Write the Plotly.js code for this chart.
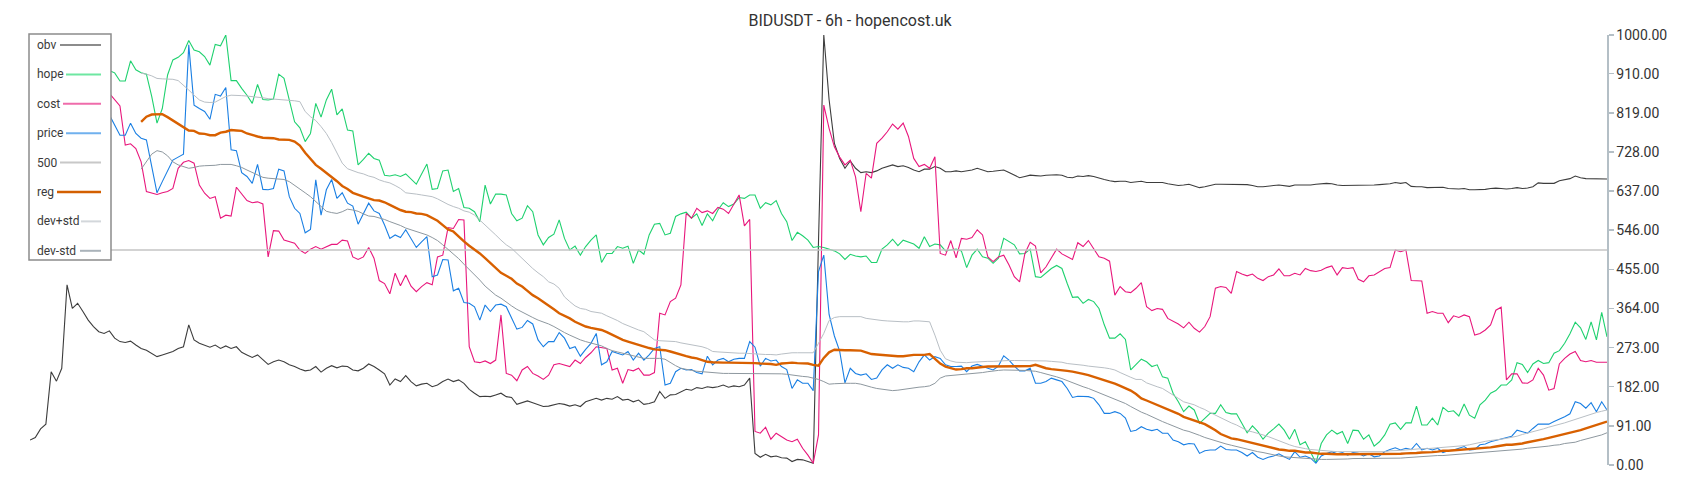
<!DOCTYPE html>
<html>
<head>
<meta charset="utf-8">
<script src="https://cdn.plot.ly/plotly-3.0.1.min.js"></script>
<style>
  html, body { margin: 0; padding: 0; background: #ffffff; }
  #chart { width: 1700px; height: 500px; }
</style>
</head>
<body>
<div id="chart"></div>
<script>
// ---------------- DATA ----------------
const TITLE = 'BIDUSDT - 6h - hopencost.uk';
const yTickVals = [0, 91, 182, 273, 364, 455, 546, 637, 728, 819, 910, 1000];
const LEVEL_500 = 500;
const N_BARS = 299;          // candles index 0 .. 298
const BAND_START = 21;       // reg / dev bands begin at this index

const obv = [
  58,64,84,95,217,195,225,419,364,376,357,337,322,310,306,312,295,287,285,288,
  279,271,267,260,252,256,260,264,271,275,326,291,283,279,274,279,271,277,271,275,
  262,256,250,256,244,234,240,244,240,233,229,223,
  219,221,229,216,225,231,226,230,229,221,219,225,235,229,221,212,186,200,194,208,
  194,184,188,190,182,186,194,200,194,198,190,176,167,159,160,159,163,167,159,157,
  141,145,149,145,141,136,137,140,143,141,137,140,
  136,147,151,155,151,155,153,159,151,153,147,151,141,143,147,171,155,163,164,171,
  176,174,180,178,182,180,182,186,181,184,182,186,202,27,18,25,19,21,17,16,
  8,13,12,8,4,520,1000,850,748,
  713,690,707,690,680,682,680,684,690,694,698,694,696,692,686,682,688,688,694,690,
  682,682,684,682,684,686,690,686,682,683,684,686,680,673,668,671,674,673,672,674,
  675,675,674,669,668,672,671,673,671,667,664,661,659,660,660,657,659,
  660,657,657,657,657,654,652,650,651,653,649,645,647,650,653,653,653,653,653,653,
  652,650,647,647,649,650,651,649,648,651,651,651,651,653,654,655,654,651,650,650,
  651,650,650,650,651,652,653,654,657,655,657,648,647,
  647,645,645,645,646,643,642,642,643,640,640,640,641,643,644,643,642,643,645,643,
  644,647,656,655,655,655,661,663,666,672,668,666,666,666,665,665
];

const hope = [
  925,915,905,920,910,900,915,925,910,900,905,915,920,910,915,
  917,912,893,893,940,919,912,909,857,795,829,907,942,948,959,987,965,961,950,930,
  978,975,1000,894,894,876,860,841,885,850,849,851,909,899,850,798,784,
  752,771,841,809,849,874,814,828,779,777,698,711,725,713,709,674,672,675,671,677,
  665,653,677,700,641,643,684,686,636,643,599,597,589,566,651,607,630,630,628,585,
  568,574,603,589,535,512,529,537,570,527,500,509,488,
  508,523,535,471,492,492,508,504,509,469,500,490,535,560,562,535,539,578,584,588,
  574,584,557,584,568,593,610,601,607,622,620,628,628,597,610,605,615,585,566,522,
  541,533,523,506,508,506,502,498,
  491,478,490,486,484,486,471,471,502,512,525,510,523,518,514,504,531,508,514,512,
  498,500,502,498,459,488,502,484,481,469,481,527,519,512,491,492,502,438,436,447,
  457,464,457,422,390,391,376,385,380,364,326,295,295,
  305,292,221,233,246,240,229,233,205,202,167,147,124,137,128,97,109,120,120,140,
  122,119,119,97,75,91,78,60,74,84,95,81,60,83,47,54,31,5,50,70,
  81,72,78,50,81,80,60,70,44,54,70,95,98,83,98,98,137,
  93,93,109,93,134,124,126,114,142,116,109,140,151,167,173,186,186,198,238,234,
  215,235,243,236,238,260,266,283,305,332,319,292,333,291,355,298
];

const cost = [
  872,868,860,865,870,862,858,866,870,864,858,862,868,866,860,
  864,849,835,744,747,736,705,636,633,629,633,636,643,690,704,708,702,651,632,620,
  624,574,581,579,646,630,615,610,612,607,484,545,544,523,519,516,500,
  492,502,508,502,508,513,513,523,521,484,478,484,506,481,429,422,398,446,417,442,
  416,403,415,424,419,484,488,552,550,571,570,275,240,238,242,236,244,349,213,209,
  196,221,229,213,207,199,209,233,236,233,229,244,236,
  250,261,275,273,271,221,225,190,222,219,225,209,209,215,353,349,380,388,419,585,
  574,597,587,591,585,599,595,585,607,628,556,571,78,74,88,60,74,66,58,54,
  60,39,23,4,70,837,783,740,716,698,709,670,
  589,678,667,748,760,775,793,781,795,764,713,694,699,690,717,492,488,522,482,527,
  525,529,547,535,484,473,484,488,465,438,426,492,518,509,447,461,481,502,491,484,
  478,517,508,522,504,484,481,474,395,415,403,401,411,
  424,368,359,364,362,341,335,328,319,332,318,309,322,345,411,415,413,399,450,444,
  440,444,434,429,438,442,456,440,440,446,442,457,452,450,453,459,463,442,459,457,
  459,432,426,440,442,450,457,459,500,496,500,429,429,
  428,353,357,353,353,331,347,343,349,345,302,306,314,326,360,367,198,212,212,191,
  190,198,225,209,174,178,235,248,258,264,243,240,243,239,239,239
];

const price = [
  840,835,825,830,820,810,815,825,820,812,805,815,820,818,812,
  814,791,767,767,795,771,760,756,694,633,659,686,709,716,723,977,837,829,822,804,
  862,858,878,733,731,680,671,655,699,641,640,643,688,684,624,597,585,
  540,548,663,581,640,664,620,633,609,602,560,585,609,591,585,558,527,535,529,547,
  525,506,519,531,438,442,478,477,405,411,378,376,368,337,372,357,372,374,368,341,
  316,320,336,328,291,275,287,287,308,295,271,275,253,
  269,283,306,233,240,264,260,256,264,244,260,244,256,271,275,186,190,217,225,221,
  222,215,212,253,233,244,248,240,246,248,248,287,274,230,248,242,244,229,222,178,
  198,190,190,173,450,488,350,300,265,191,225,213,
  209,212,199,202,221,233,225,233,227,225,217,240,256,244,252,248,233,229,229,230,
  217,230,234,229,225,221,230,254,244,230,219,219,225,190,190,194,202,198,194,178,
  157,160,159,159,155,140,120,120,124,120,109,78,81,
  89,83,80,83,74,74,58,54,47,50,49,27,33,35,35,44,36,35,35,29,
  21,29,18,13,18,21,26,19,13,31,18,21,16,4,21,27,31,26,29,23,
  29,27,21,26,19,21,31,36,40,35,39,36,50,
  35,39,35,39,29,33,35,39,43,35,36,47,49,54,57,60,64,67,81,78,
  74,85,95,95,95,101,106,112,119,147,143,132,145,124,147,128
];

// reg and its bands start at BAND_START
const reg = [
  798,810,815,816,816,809,801,795,787,778,777,771,770,767,767,773,775,779,778,777,
  771,767,764,761,760,760,757,757,756,752,743,
  726,712,698,689,680,671,660,649,642,633,628,624,620,616,615,611,605,599,593,589,
  588,585,584,581,575,568,558,548,543,531,520,510,502,492,481,469,457,447,440,433,
  422,415,405,395,388,380,371,362,353,347,341,333,327,
  322,319,316,314,309,303,297,291,287,283,279,275,272,269,268,267,264,260,257,253,
  250,248,244,240,239,238,238,238,238,238,238,238,237,236,236,235,233,236,237,238,
  237,236,236,233,231,249,262,268,267,267,267,266,
  266,262,258,257,256,255,253,253,253,255,256,256,256,258,247,236,229,225,222,223,
  225,225,227,228,229,229,229,229,230,230,230,230,230,233,229,225,223,222,221,219,
  217,215,212,209,205,202,198,193,189,184,178,173,165,
  155,150,145,140,134,129,124,119,112,108,103,99,95,88,81,72,67,62,60,57,
  54,51,49,46,43,40,36,35,33,33,31,29,29,27,26,26,25,25,25,25,
  25,25,25,25,25,25,25,26,26,26,27,27,28,
  29,29,30,31,33,33,34,35,36,36,37,38,40,41,43,45,47,47,48,50,
  53,55,57,60,63,66,68,71,75,78,81,85,89,93,97,101
];

const devPlus = [
  911,909,905,899,898,898,897,894,884,872,860,849,844,843,844,850,857,860,860,859,
  858,857,855,854,852,851,850,850,849,847,845,
  822,810,801,787,771,750,725,702,689,684,680,677,672,669,663,659,656,650,643,633,
  632,630,628,626,624,619,612,606,601,597,591,588,581,570,557,547,535,523,512,504,
  492,481,469,457,447,438,426,421,411,391,380,370,364,
  362,357,355,353,347,342,336,329,324,318,314,310,300,291,289,288,287,287,284,282,
  279,278,275,271,264,263,262,261,260,260,260,259,258,258,257,257,256,258,260,261,
  261,261,261,261,283,306,336,343,345,345,345,345,
  345,341,339,337,336,335,334,333,333,333,335,335,334,333,302,267,247,242,239,238,
  238,239,240,240,241,241,242,242,243,243,243,243,243,243,242,242,241,240,239,236,
  235,233,232,230,229,227,226,224,221,215,209,204,199,
  199,191,186,182,178,171,163,155,147,143,140,134,129,122,116,109,103,98,93,87,
  80,77,74,70,66,61,57,52,47,43,40,38,36,35,33,33,31,31,31,31,
  31,31,30,31,31,31,31,33,33,34,35,36,38,
  38,38,39,40,40,41,43,43,45,47,50,53,55,57,58,60,62,64,67,71,
  74,78,81,84,88,91,95,98,102,106,111,115,118,122,125,128
];

const devMinus = [
  688,705,723,731,728,719,705,698,694,690,692,695,696,696,697,699,699,699,696,692,
  686,680,674,669,667,666,665,664,659,651,642,
  633,624,612,601,590,587,585,589,595,593,590,584,579,578,575,571,566,562,557,551,
  547,543,539,535,529,522,512,501,492,480,467,455,443,430,416,405,395,388,378,370,
  362,355,349,343,337,333,328,322,314,308,302,296,291,
  287,284,281,277,271,266,263,260,257,253,250,248,248,248,248,246,238,231,225,222,
  220,218,217,215,214,213,213,213,213,213,213,213,213,213,213,213,213,212,211,209,
  208,206,205,202,199,194,188,189,190,190,190,190,
  188,184,181,178,176,174,173,174,176,178,179,181,182,184,190,202,207,208,209,211,
  211,213,214,215,217,219,220,221,221,221,221,220,219,218,215,212,209,205,201,196,
  191,187,182,178,173,168,163,157,153,148,143,136,129,
  123,118,112,107,101,96,91,87,81,78,74,69,64,60,57,53,49,46,43,40,
  36,34,31,29,26,23,21,19,18,17,16,16,15,14,13,13,13,13,13,14,
  15,15,15,15,15,16,16,16,16,16,17,18,18,
  19,21,22,22,22,23,24,25,26,26,27,28,29,30,32,33,34,35,36,37,
  39,40,42,43,44,46,47,50,51,53,57,60,63,66,70,75
];

// ---------------- STYLE ----------------
const seriesDefs = [
  { name: 'obv',     data: obv,      start: 0,          color: '#3d3d3d', width: 1.1, legendColor: '#8c8c8c' },
  { name: 'hope',    data: hope,     start: 0,          color: '#1fd16f', width: 1.1, legendColor: '#6ee7a2' },
  { name: 'cost',    data: cost,     start: 0,          color: '#e8177c', width: 1.1, legendColor: '#ef6cab' },
  { name: 'price',   data: price,    start: 0,          color: '#1a7fe3', width: 1.1, legendColor: '#70b1ee' },
  { name: '500',     data: null,     start: 0,          color: '#c4c4c4', width: 1.6, legendColor: '#c8c8c8' },
  { name: 'reg',     data: reg,      start: BAND_START, color: '#d86000', width: 2.4, legendColor: '#d35f00' },
  { name: 'dev+std', data: devPlus,  start: BAND_START, color: '#b9bfc5', width: 1.0, legendColor: '#d3d7db' },
  { name: 'dev-std', data: devMinus, start: BAND_START, color: '#8e989f', width: 1.0, legendColor: '#aab3ba' }
];

const FONT = 'Roboto, "Open Sans", sans-serif';
const W = 1700, H = 500;
const M = { l: 30, r: 93, t: 35, b: 35 };
const PW = W - M.l - M.r, PH = H - M.t - M.b;

const allIdx = Array.from({ length: N_BARS }, (_, i) => i);

const traces = seriesDefs.map(s => {
  let xs, ys;
  if (s.data === null) {
    xs = allIdx;
    ys = allIdx.map(() => LEVEL_500);
  } else {
    xs = s.data.map((_, i) => s.start + i);
    ys = s.data;
  }
  return {
    type: 'scatter', mode: 'lines', name: s.name,
    x: xs, y: ys,
    line: { color: s.color, width: s.width },
    hoverinfo: 'skip', showlegend: false
  };
});

// ---------------- custom legend (text left, sample right) ----------------
const pxToPaperX = px => (px - M.l) / PW;
const pxToPaperY = py => (H - M.b - py) / PH;
const LEG = { left: 29, right: 111, top: 34, bottom: 260, textX: 35, firstRow: 45, rowGap: 29.4, sampleEnd: 101 };
const sampleStarts = [60, 66, 63, 66, 60, 57, 81, 80];

const shapes = [{
  type: 'rect', xref: 'paper', yref: 'paper', layer: 'above',
  x0: pxToPaperX(LEG.left), x1: pxToPaperX(LEG.right),
  y0: pxToPaperY(LEG.bottom), y1: pxToPaperY(LEG.top),
  fillcolor: '#ffffff', line: { color: '#8c8c8c', width: 1.5 }
}];
const annotations = [];
seriesDefs.forEach((s, i) => {
  const py = LEG.firstRow + i * LEG.rowGap;
  annotations.push({
    xref: 'paper', yref: 'paper', x: pxToPaperX(LEG.textX), y: pxToPaperY(py),
    xanchor: 'left', yanchor: 'middle', showarrow: false, text: s.name,
    font: { family: FONT, size: 12, color: '#3a3a3a' }
  });
  shapes.push({
    type: 'line', xref: 'paper', yref: 'paper', layer: 'above',
    x0: pxToPaperX(sampleStarts[i]), x1: pxToPaperX(LEG.sampleEnd),
    y0: pxToPaperY(py), y1: pxToPaperY(py),
    line: { color: s.legendColor, width: s.name === 'reg' ? 2.4 : 2 }
  });
});

const layout = {
  width: W, height: H,
  margin: M,
  paper_bgcolor: '#ffffff', plot_bgcolor: '#ffffff',
  showlegend: false,
  title: {
    text: TITLE, xref: 'container', x: 0.5, xanchor: 'center',
    yref: 'container', y: 1 - 20.5 / H, yanchor: 'middle',
    font: { family: FONT, size: 16, color: '#333333' }
  },
  xaxis: {
    range: [0, N_BARS - 1], visible: false, showgrid: false, zeroline: false, fixedrange: true
  },
  yaxis: {
    side: 'right', range: [0, 1000],
    tickmode: 'array', tickvals: yTickVals, ticktext: yTickVals.map(v => v.toFixed(2)),
    showline: true, linecolor: '#b4bfc6', linewidth: 1.5,
    ticks: 'outside', ticklen: 5, tickwidth: 1.5, tickcolor: '#b4bfc6',
    showgrid: false, zeroline: false, fixedrange: true,
    tickfont: { family: FONT, size: 14, color: '#333333' }
  },
  shapes: shapes,
  annotations: annotations,
  font: { family: FONT }
};

Plotly.newPlot('chart', traces, layout, { displayModeBar: false, staticPlot: true });
</script>
</body>
</html>
